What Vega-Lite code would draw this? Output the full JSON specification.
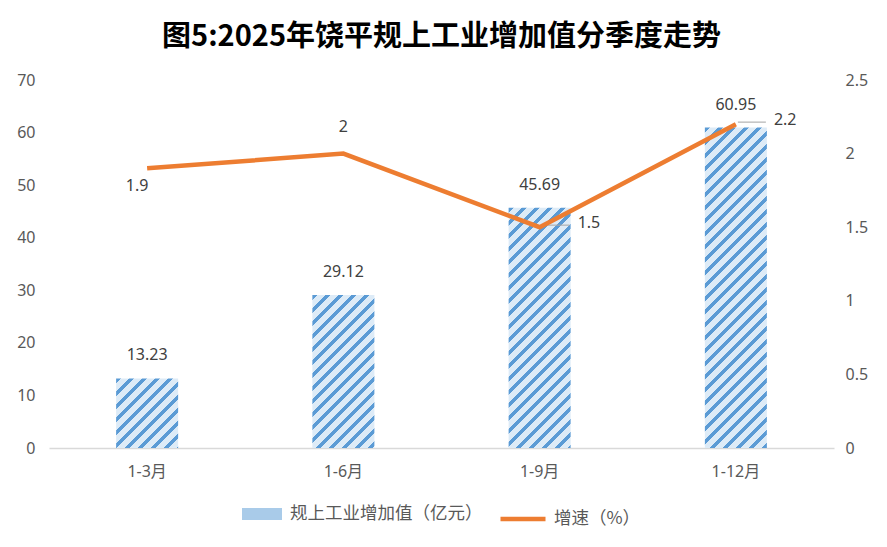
{
  "$schema": "https://vega.github.io/schema/vega-lite/v6.json",
  "title": {
    "text": "图5:2025年饶平规上工业增加值分季度走势",
    "anchor": "middle",
    "frame": "group",
    "offset": 20
  },
  "autosize": {"type": "none"},
  "padding": {"left": 49, "top": 80, "right": 53, "bottom": 99},
  "width": 785,
  "height": 368,
  "data": {
    "values": [
      {"period": "1-3月", "value": 13.23, "growth": 1.9},
      {"period": "1-6月", "value": 29.12, "growth": 2},
      {"period": "1-9月", "value": 45.69, "growth": 1.5},
      {"period": "1-12月", "value": 60.95, "growth": 2.2}
    ]
  },
  "encoding": {
    "x": {
      "field": "period",
      "type": "nominal",
      "sort": null,
      "scale": {"paddingInner": 0.684, "paddingOuter": 0.342},
      "axis": {
        "title": null,
        "labelAngle": 0,
        "ticks": false,
        "domainColor": "#D9D9D9",
        "domainWidth": 1.5,
        "labelPadding": 15
      }
    }
  },
  "layer": [
    {
      "encoding": {
        "y": {
          "field": "value",
          "type": "quantitative",
          "scale": {"domain": [0, 70]},
          "axis": {
            "title": null,
            "values": [0, 10, 20, 30, 40, 50, 60, 70],
            "grid": false,
            "ticks": false,
            "domain": false,
            "labelPadding": 14
          }
        }
      },
      "layer": [
        {
          "mark": {"type": "bar"},
          "encoding": {
            "fill": {
              "datum": "规上工业增加值（亿元）",
              "type": "nominal",
              "scale": {"range": ["#A9CBE9"]},
              "legend": {
                "title": null,
                "symbolType": "M-1,-0.3H1V0.3H-1Z",
                "symbolSize": 1600,
                "symbolStrokeWidth": 0,
                "labelOffset": 8,
                "labelLimit": 400,
                "offset": 15
              },
              "condition": [
                {
                  "test": "datum.period === '1-3月'",
                  "value": {
                    "gradient": "linear", "x1": 0, "y1": 0, "x2": 3.7138, "y2": 4.166,
                    "stops": [
                      {"offset": 0, "color": "#5B9BD5"}, {"offset": 0.01, "color": "#5B9BD5"}, {"offset": 0.01, "color": "#DDEBF7"}, {"offset": 0.025, "color": "#DDEBF7"},
                      {"offset": 0.025, "color": "#5B9BD5"}, {"offset": 0.035, "color": "#5B9BD5"}, {"offset": 0.035, "color": "#DDEBF7"}, {"offset": 0.05, "color": "#DDEBF7"},
                      {"offset": 0.05, "color": "#5B9BD5"}, {"offset": 0.06, "color": "#5B9BD5"}, {"offset": 0.06, "color": "#DDEBF7"}, {"offset": 0.075, "color": "#DDEBF7"},
                      {"offset": 0.075, "color": "#5B9BD5"}, {"offset": 0.085, "color": "#5B9BD5"}, {"offset": 0.085, "color": "#DDEBF7"}, {"offset": 0.1, "color": "#DDEBF7"},
                      {"offset": 0.1, "color": "#5B9BD5"}, {"offset": 0.11, "color": "#5B9BD5"}, {"offset": 0.11, "color": "#DDEBF7"}, {"offset": 0.125, "color": "#DDEBF7"},
                      {"offset": 0.125, "color": "#5B9BD5"}, {"offset": 0.135, "color": "#5B9BD5"}, {"offset": 0.135, "color": "#DDEBF7"}, {"offset": 0.15, "color": "#DDEBF7"},
                      {"offset": 0.15, "color": "#5B9BD5"}, {"offset": 0.16, "color": "#5B9BD5"}, {"offset": 0.16, "color": "#DDEBF7"}, {"offset": 0.175, "color": "#DDEBF7"},
                      {"offset": 0.175, "color": "#5B9BD5"}, {"offset": 0.185, "color": "#5B9BD5"}, {"offset": 0.185, "color": "#DDEBF7"}, {"offset": 0.2, "color": "#DDEBF7"},
                      {"offset": 0.2, "color": "#5B9BD5"}, {"offset": 0.21, "color": "#5B9BD5"}, {"offset": 0.21, "color": "#DDEBF7"}, {"offset": 0.225, "color": "#DDEBF7"},
                      {"offset": 0.225, "color": "#5B9BD5"}, {"offset": 0.235, "color": "#5B9BD5"}, {"offset": 0.235, "color": "#DDEBF7"}, {"offset": 0.25, "color": "#DDEBF7"},
                      {"offset": 0.25, "color": "#5B9BD5"}, {"offset": 0.26, "color": "#5B9BD5"}, {"offset": 0.26, "color": "#DDEBF7"}, {"offset": 0.275, "color": "#DDEBF7"}
                    ]
                  }
                },
                {
                  "test": "datum.period === '1-6月'",
                  "value": {
                    "gradient": "linear", "x1": 0, "y1": 0, "x2": 1.1818, "y2": 2.9181,
                    "stops": [
                      {"offset": 0, "color": "#5B9BD5"}, {"offset": 0.01, "color": "#5B9BD5"}, {"offset": 0.01, "color": "#DDEBF7"}, {"offset": 0.025, "color": "#DDEBF7"},
                      {"offset": 0.025, "color": "#5B9BD5"}, {"offset": 0.035, "color": "#5B9BD5"}, {"offset": 0.035, "color": "#DDEBF7"}, {"offset": 0.05, "color": "#DDEBF7"},
                      {"offset": 0.05, "color": "#5B9BD5"}, {"offset": 0.06, "color": "#5B9BD5"}, {"offset": 0.06, "color": "#DDEBF7"}, {"offset": 0.075, "color": "#DDEBF7"},
                      {"offset": 0.075, "color": "#5B9BD5"}, {"offset": 0.085, "color": "#5B9BD5"}, {"offset": 0.085, "color": "#DDEBF7"}, {"offset": 0.1, "color": "#DDEBF7"},
                      {"offset": 0.1, "color": "#5B9BD5"}, {"offset": 0.11, "color": "#5B9BD5"}, {"offset": 0.11, "color": "#DDEBF7"}, {"offset": 0.125, "color": "#DDEBF7"},
                      {"offset": 0.125, "color": "#5B9BD5"}, {"offset": 0.135, "color": "#5B9BD5"}, {"offset": 0.135, "color": "#DDEBF7"}, {"offset": 0.15, "color": "#DDEBF7"},
                      {"offset": 0.15, "color": "#5B9BD5"}, {"offset": 0.16, "color": "#5B9BD5"}, {"offset": 0.16, "color": "#DDEBF7"}, {"offset": 0.175, "color": "#DDEBF7"},
                      {"offset": 0.175, "color": "#5B9BD5"}, {"offset": 0.185, "color": "#5B9BD5"}, {"offset": 0.185, "color": "#DDEBF7"}, {"offset": 0.2, "color": "#DDEBF7"},
                      {"offset": 0.2, "color": "#5B9BD5"}, {"offset": 0.21, "color": "#5B9BD5"}, {"offset": 0.21, "color": "#DDEBF7"}, {"offset": 0.225, "color": "#DDEBF7"},
                      {"offset": 0.225, "color": "#5B9BD5"}, {"offset": 0.235, "color": "#5B9BD5"}, {"offset": 0.235, "color": "#DDEBF7"}, {"offset": 0.25, "color": "#DDEBF7"},
                      {"offset": 0.25, "color": "#5B9BD5"}, {"offset": 0.26, "color": "#5B9BD5"}, {"offset": 0.26, "color": "#DDEBF7"}, {"offset": 0.275, "color": "#DDEBF7"},
                      {"offset": 0.275, "color": "#5B9BD5"}, {"offset": 0.285, "color": "#5B9BD5"}, {"offset": 0.285, "color": "#DDEBF7"}, {"offset": 0.3, "color": "#DDEBF7"},
                      {"offset": 0.3, "color": "#5B9BD5"}, {"offset": 0.31, "color": "#5B9BD5"}, {"offset": 0.31, "color": "#DDEBF7"}, {"offset": 0.325, "color": "#DDEBF7"},
                      {"offset": 0.325, "color": "#5B9BD5"}, {"offset": 0.335, "color": "#5B9BD5"}, {"offset": 0.335, "color": "#DDEBF7"}, {"offset": 0.35, "color": "#DDEBF7"},
                      {"offset": 0.35, "color": "#5B9BD5"}, {"offset": 0.36, "color": "#5B9BD5"}, {"offset": 0.36, "color": "#DDEBF7"}, {"offset": 0.375, "color": "#DDEBF7"},
                      {"offset": 0.375, "color": "#5B9BD5"}, {"offset": 0.385, "color": "#5B9BD5"}, {"offset": 0.385, "color": "#DDEBF7"}, {"offset": 0.4, "color": "#DDEBF7"},
                      {"offset": 0.4, "color": "#5B9BD5"}, {"offset": 0.41, "color": "#5B9BD5"}, {"offset": 0.41, "color": "#DDEBF7"}, {"offset": 0.425, "color": "#DDEBF7"}
                    ]
                  }
                },
                {
                  "test": "datum.period === '1-9月'",
                  "value": {
                    "gradient": "linear", "x1": 0, "y1": 0, "x2": 0.5239, "y2": 2.0296,
                    "stops": [
                      {"offset": 0, "color": "#5B9BD5"}, {"offset": 0.01, "color": "#5B9BD5"}, {"offset": 0.01, "color": "#DDEBF7"}, {"offset": 0.025, "color": "#DDEBF7"},
                      {"offset": 0.025, "color": "#5B9BD5"}, {"offset": 0.035, "color": "#5B9BD5"}, {"offset": 0.035, "color": "#DDEBF7"}, {"offset": 0.05, "color": "#DDEBF7"},
                      {"offset": 0.05, "color": "#5B9BD5"}, {"offset": 0.06, "color": "#5B9BD5"}, {"offset": 0.06, "color": "#DDEBF7"}, {"offset": 0.075, "color": "#DDEBF7"},
                      {"offset": 0.075, "color": "#5B9BD5"}, {"offset": 0.085, "color": "#5B9BD5"}, {"offset": 0.085, "color": "#DDEBF7"}, {"offset": 0.1, "color": "#DDEBF7"},
                      {"offset": 0.1, "color": "#5B9BD5"}, {"offset": 0.11, "color": "#5B9BD5"}, {"offset": 0.11, "color": "#DDEBF7"}, {"offset": 0.125, "color": "#DDEBF7"},
                      {"offset": 0.125, "color": "#5B9BD5"}, {"offset": 0.135, "color": "#5B9BD5"}, {"offset": 0.135, "color": "#DDEBF7"}, {"offset": 0.15, "color": "#DDEBF7"},
                      {"offset": 0.15, "color": "#5B9BD5"}, {"offset": 0.16, "color": "#5B9BD5"}, {"offset": 0.16, "color": "#DDEBF7"}, {"offset": 0.175, "color": "#DDEBF7"},
                      {"offset": 0.175, "color": "#5B9BD5"}, {"offset": 0.185, "color": "#5B9BD5"}, {"offset": 0.185, "color": "#DDEBF7"}, {"offset": 0.2, "color": "#DDEBF7"},
                      {"offset": 0.2, "color": "#5B9BD5"}, {"offset": 0.21, "color": "#5B9BD5"}, {"offset": 0.21, "color": "#DDEBF7"}, {"offset": 0.225, "color": "#DDEBF7"},
                      {"offset": 0.225, "color": "#5B9BD5"}, {"offset": 0.235, "color": "#5B9BD5"}, {"offset": 0.235, "color": "#DDEBF7"}, {"offset": 0.25, "color": "#DDEBF7"},
                      {"offset": 0.25, "color": "#5B9BD5"}, {"offset": 0.26, "color": "#5B9BD5"}, {"offset": 0.26, "color": "#DDEBF7"}, {"offset": 0.275, "color": "#DDEBF7"},
                      {"offset": 0.275, "color": "#5B9BD5"}, {"offset": 0.285, "color": "#5B9BD5"}, {"offset": 0.285, "color": "#DDEBF7"}, {"offset": 0.3, "color": "#DDEBF7"},
                      {"offset": 0.3, "color": "#5B9BD5"}, {"offset": 0.31, "color": "#5B9BD5"}, {"offset": 0.31, "color": "#DDEBF7"}, {"offset": 0.325, "color": "#DDEBF7"},
                      {"offset": 0.325, "color": "#5B9BD5"}, {"offset": 0.335, "color": "#5B9BD5"}, {"offset": 0.335, "color": "#DDEBF7"}, {"offset": 0.35, "color": "#DDEBF7"},
                      {"offset": 0.35, "color": "#5B9BD5"}, {"offset": 0.36, "color": "#5B9BD5"}, {"offset": 0.36, "color": "#DDEBF7"}, {"offset": 0.375, "color": "#DDEBF7"},
                      {"offset": 0.375, "color": "#5B9BD5"}, {"offset": 0.385, "color": "#5B9BD5"}, {"offset": 0.385, "color": "#DDEBF7"}, {"offset": 0.4, "color": "#DDEBF7"},
                      {"offset": 0.4, "color": "#5B9BD5"}, {"offset": 0.41, "color": "#5B9BD5"}, {"offset": 0.41, "color": "#DDEBF7"}, {"offset": 0.425, "color": "#DDEBF7"},
                      {"offset": 0.425, "color": "#5B9BD5"}, {"offset": 0.435, "color": "#5B9BD5"}, {"offset": 0.435, "color": "#DDEBF7"}, {"offset": 0.45, "color": "#DDEBF7"},
                      {"offset": 0.45, "color": "#5B9BD5"}, {"offset": 0.46, "color": "#5B9BD5"}, {"offset": 0.46, "color": "#DDEBF7"}, {"offset": 0.475, "color": "#DDEBF7"},
                      {"offset": 0.475, "color": "#5B9BD5"}, {"offset": 0.485, "color": "#5B9BD5"}, {"offset": 0.485, "color": "#DDEBF7"}, {"offset": 0.5, "color": "#DDEBF7"},
                      {"offset": 0.5, "color": "#5B9BD5"}, {"offset": 0.51, "color": "#5B9BD5"}, {"offset": 0.51, "color": "#DDEBF7"}, {"offset": 0.525, "color": "#DDEBF7"},
                      {"offset": 0.525, "color": "#5B9BD5"}, {"offset": 0.535, "color": "#5B9BD5"}, {"offset": 0.535, "color": "#DDEBF7"}, {"offset": 0.55, "color": "#DDEBF7"},
                      {"offset": 0.55, "color": "#5B9BD5"}, {"offset": 0.56, "color": "#5B9BD5"}, {"offset": 0.56, "color": "#DDEBF7"}, {"offset": 0.575, "color": "#DDEBF7"},
                      {"offset": 0.575, "color": "#5B9BD5"}, {"offset": 0.585, "color": "#5B9BD5"}, {"offset": 0.585, "color": "#DDEBF7"}, {"offset": 0.6, "color": "#DDEBF7"}
                    ]
                  }
                },
                {
                  "test": "datum.period === '1-12月'",
                  "value": {
                    "gradient": "linear", "x1": 0, "y1": 0, "x2": 0.3027, "y2": 1.5643,
                    "stops": [
                      {"offset": 0, "color": "#5B9BD5"}, {"offset": 0.01, "color": "#5B9BD5"}, {"offset": 0.01, "color": "#DDEBF7"}, {"offset": 0.025, "color": "#DDEBF7"},
                      {"offset": 0.025, "color": "#5B9BD5"}, {"offset": 0.035, "color": "#5B9BD5"}, {"offset": 0.035, "color": "#DDEBF7"}, {"offset": 0.05, "color": "#DDEBF7"},
                      {"offset": 0.05, "color": "#5B9BD5"}, {"offset": 0.06, "color": "#5B9BD5"}, {"offset": 0.06, "color": "#DDEBF7"}, {"offset": 0.075, "color": "#DDEBF7"},
                      {"offset": 0.075, "color": "#5B9BD5"}, {"offset": 0.085, "color": "#5B9BD5"}, {"offset": 0.085, "color": "#DDEBF7"}, {"offset": 0.1, "color": "#DDEBF7"},
                      {"offset": 0.1, "color": "#5B9BD5"}, {"offset": 0.11, "color": "#5B9BD5"}, {"offset": 0.11, "color": "#DDEBF7"}, {"offset": 0.125, "color": "#DDEBF7"},
                      {"offset": 0.125, "color": "#5B9BD5"}, {"offset": 0.135, "color": "#5B9BD5"}, {"offset": 0.135, "color": "#DDEBF7"}, {"offset": 0.15, "color": "#DDEBF7"},
                      {"offset": 0.15, "color": "#5B9BD5"}, {"offset": 0.16, "color": "#5B9BD5"}, {"offset": 0.16, "color": "#DDEBF7"}, {"offset": 0.175, "color": "#DDEBF7"},
                      {"offset": 0.175, "color": "#5B9BD5"}, {"offset": 0.185, "color": "#5B9BD5"}, {"offset": 0.185, "color": "#DDEBF7"}, {"offset": 0.2, "color": "#DDEBF7"},
                      {"offset": 0.2, "color": "#5B9BD5"}, {"offset": 0.21, "color": "#5B9BD5"}, {"offset": 0.21, "color": "#DDEBF7"}, {"offset": 0.225, "color": "#DDEBF7"},
                      {"offset": 0.225, "color": "#5B9BD5"}, {"offset": 0.235, "color": "#5B9BD5"}, {"offset": 0.235, "color": "#DDEBF7"}, {"offset": 0.25, "color": "#DDEBF7"},
                      {"offset": 0.25, "color": "#5B9BD5"}, {"offset": 0.26, "color": "#5B9BD5"}, {"offset": 0.26, "color": "#DDEBF7"}, {"offset": 0.275, "color": "#DDEBF7"},
                      {"offset": 0.275, "color": "#5B9BD5"}, {"offset": 0.285, "color": "#5B9BD5"}, {"offset": 0.285, "color": "#DDEBF7"}, {"offset": 0.3, "color": "#DDEBF7"},
                      {"offset": 0.3, "color": "#5B9BD5"}, {"offset": 0.31, "color": "#5B9BD5"}, {"offset": 0.31, "color": "#DDEBF7"}, {"offset": 0.325, "color": "#DDEBF7"},
                      {"offset": 0.325, "color": "#5B9BD5"}, {"offset": 0.335, "color": "#5B9BD5"}, {"offset": 0.335, "color": "#DDEBF7"}, {"offset": 0.35, "color": "#DDEBF7"},
                      {"offset": 0.35, "color": "#5B9BD5"}, {"offset": 0.36, "color": "#5B9BD5"}, {"offset": 0.36, "color": "#DDEBF7"}, {"offset": 0.375, "color": "#DDEBF7"},
                      {"offset": 0.375, "color": "#5B9BD5"}, {"offset": 0.385, "color": "#5B9BD5"}, {"offset": 0.385, "color": "#DDEBF7"}, {"offset": 0.4, "color": "#DDEBF7"},
                      {"offset": 0.4, "color": "#5B9BD5"}, {"offset": 0.41, "color": "#5B9BD5"}, {"offset": 0.41, "color": "#DDEBF7"}, {"offset": 0.425, "color": "#DDEBF7"},
                      {"offset": 0.425, "color": "#5B9BD5"}, {"offset": 0.435, "color": "#5B9BD5"}, {"offset": 0.435, "color": "#DDEBF7"}, {"offset": 0.45, "color": "#DDEBF7"},
                      {"offset": 0.45, "color": "#5B9BD5"}, {"offset": 0.46, "color": "#5B9BD5"}, {"offset": 0.46, "color": "#DDEBF7"}, {"offset": 0.475, "color": "#DDEBF7"},
                      {"offset": 0.475, "color": "#5B9BD5"}, {"offset": 0.485, "color": "#5B9BD5"}, {"offset": 0.485, "color": "#DDEBF7"}, {"offset": 0.5, "color": "#DDEBF7"},
                      {"offset": 0.5, "color": "#5B9BD5"}, {"offset": 0.51, "color": "#5B9BD5"}, {"offset": 0.51, "color": "#DDEBF7"}, {"offset": 0.525, "color": "#DDEBF7"},
                      {"offset": 0.525, "color": "#5B9BD5"}, {"offset": 0.535, "color": "#5B9BD5"}, {"offset": 0.535, "color": "#DDEBF7"}, {"offset": 0.55, "color": "#DDEBF7"},
                      {"offset": 0.55, "color": "#5B9BD5"}, {"offset": 0.56, "color": "#5B9BD5"}, {"offset": 0.56, "color": "#DDEBF7"}, {"offset": 0.575, "color": "#DDEBF7"},
                      {"offset": 0.575, "color": "#5B9BD5"}, {"offset": 0.585, "color": "#5B9BD5"}, {"offset": 0.585, "color": "#DDEBF7"}, {"offset": 0.6, "color": "#DDEBF7"},
                      {"offset": 0.6, "color": "#5B9BD5"}, {"offset": 0.61, "color": "#5B9BD5"}, {"offset": 0.61, "color": "#DDEBF7"}, {"offset": 0.625, "color": "#DDEBF7"},
                      {"offset": 0.625, "color": "#5B9BD5"}, {"offset": 0.635, "color": "#5B9BD5"}, {"offset": 0.635, "color": "#DDEBF7"}, {"offset": 0.65, "color": "#DDEBF7"},
                      {"offset": 0.65, "color": "#5B9BD5"}, {"offset": 0.66, "color": "#5B9BD5"}, {"offset": 0.66, "color": "#DDEBF7"}, {"offset": 0.675, "color": "#DDEBF7"},
                      {"offset": 0.675, "color": "#5B9BD5"}, {"offset": 0.685, "color": "#5B9BD5"}, {"offset": 0.685, "color": "#DDEBF7"}, {"offset": 0.7, "color": "#DDEBF7"},
                      {"offset": 0.7, "color": "#5B9BD5"}, {"offset": 0.71, "color": "#5B9BD5"}, {"offset": 0.71, "color": "#DDEBF7"}, {"offset": 0.725, "color": "#DDEBF7"},
                      {"offset": 0.725, "color": "#5B9BD5"}, {"offset": 0.735, "color": "#5B9BD5"}, {"offset": 0.735, "color": "#DDEBF7"}, {"offset": 0.75, "color": "#DDEBF7"}
                    ]
                  }
                }
              ]
            }
          }
        },
        {
          "mark": {"type": "text", "dy": -23, "baseline": "middle", "color": "#404040", "fontSize": 16},
          "encoding": {
            "text": {"field": "value", "type": "quantitative", "format": ".2f"}
          }
        }
      ]
    },
    {
      "encoding": {
        "y": {
          "field": "growth",
          "type": "quantitative",
          "scale": {"domain": [0, 2.5]},
          "axis": {
            "title": null,
            "orient": "right",
            "values": [0, 0.5, 1, 1.5, 2, 2.5],
            "format": "~g",
            "grid": false,
            "ticks": false,
            "domain": false,
            "labelPadding": 11
          }
        }
      },
      "layer": [
        {
          "transform": [{"filter": {"field": "period", "oneOf": ["1-9月", "1-12月"]}}],
          "mark": {"type": "tick", "orient": "horizontal", "size": 28, "thickness": 1.5, "color": "#A6A6A6", "xOffset": 16, "yOffset": -2}
        },
        {
          "mark": {"type": "line", "strokeWidth": 4.5},
          "encoding": {
            "stroke": {
              "datum": "增速（%）",
              "type": "nominal",
              "scale": {"range": ["#ED7D31"]},
              "legend": {
                "title": null,
                "symbolType": "stroke",
                "symbolSize": 2025,
                "symbolStrokeWidth": 4.5,
                "labelOffset": 6,
                "labelLimit": 400,
                "offset": 15
              }
            }
          }
        },
        {
          "transform": [{"filter": {"field": "period", "equal": "1-3月"}}],
          "mark": {"type": "text", "dx": -10, "dy": 18, "baseline": "middle", "color": "#404040", "fontSize": 16},
          "encoding": {"text": {"field": "growth", "type": "quantitative", "format": "~g"}}
        },
        {
          "transform": [{"filter": {"field": "period", "equal": "1-6月"}}],
          "mark": {"type": "text", "dy": -27, "baseline": "middle", "color": "#404040", "fontSize": 16},
          "encoding": {"text": {"field": "growth", "type": "quantitative", "format": "~g"}}
        },
        {
          "transform": [{"filter": {"field": "period", "oneOf": ["1-9月", "1-12月"]}}],
          "mark": {"type": "text", "align": "left", "dx": 38, "dy": -4, "baseline": "middle", "color": "#404040", "fontSize": 16},
          "encoding": {"text": {"field": "growth", "type": "quantitative", "format": "~g"}}
        }
      ]
    }
  ],
  "resolve": {"scale": {"y": "independent"}},
  "config": {
    "font": "Noto Sans, Noto Sans CJK SC",
    "background": "#ffffff",
    "view": {"stroke": null},
    "axis": {
      "labelFontSize": 16,
      "labelColor": "#595959",
      "labelFont": "Noto Sans, Noto Sans CJK SC"
    },
    "legend": {
      "orient": "bottom",
      "labelFontSize": 17.5,
      "labelColor": "#595959",
      "labelFont": "Noto Sans CJK SC",
      "layout": {"bottom": {"anchor": "middle", "direction": "horizontal", "margin": 15, "offset": 15}}
    },
    "title": {
      "font": "Noto Sans CJK SC",
      "fontSize": 29,
      "fontWeight": "bold",
      "color": "#000000"
    }
  }
}
